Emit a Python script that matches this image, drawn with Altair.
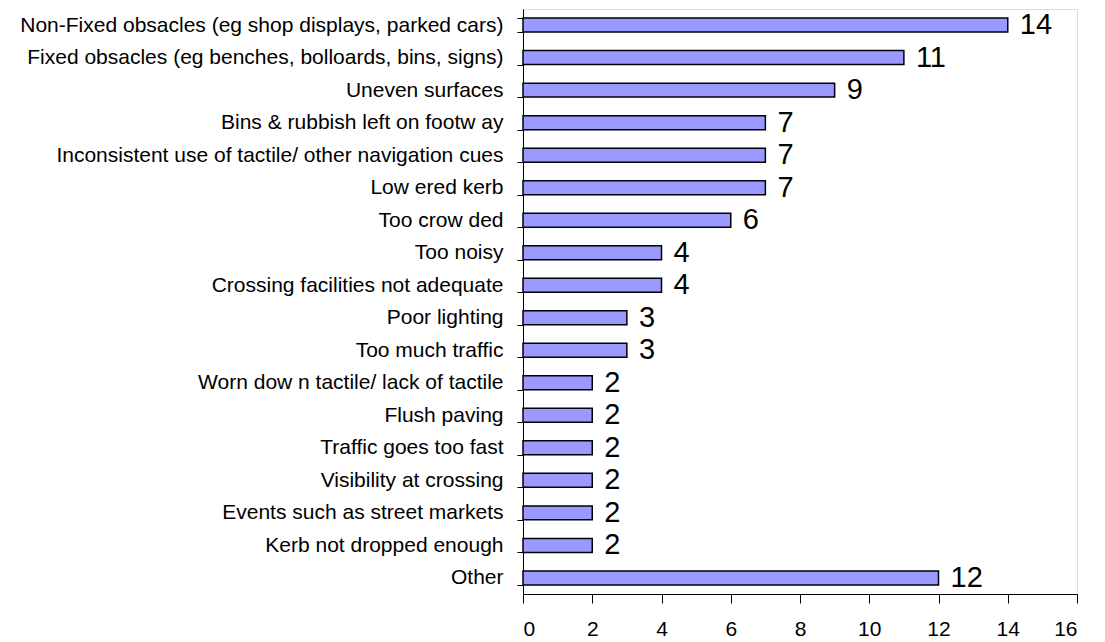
import altair as alt
import pandas as pd

categories = [
    "Non-Fixed obsacles (eg shop displays, parked cars)",
    "Fixed obsacles (eg benches, bolloards, bins, signs)",
    "Uneven surfaces",
    "Bins & rubbish left on footw ay",
    "Inconsistent use of tactile/ other navigation cues",
    "Low ered kerb",
    "Too crow ded",
    "Too noisy",
    "Crossing facilities not adequate",
    "Poor lighting",
    "Too much traffic",
    "Worn dow n tactile/ lack of tactile",
    "Flush paving",
    "Traffic goes too fast",
    "Visibility at crossing",
    "Events such as street markets",
    "Kerb not dropped enough",
    "Other",
]
values = [14, 11, 9, 7, 7, 7, 6, 4, 4, 3, 3, 2, 2, 2, 2, 2, 2, 12]
x_ticks = [0, 2, 4, 6, 8, 10, 12, 14, 16]

df = pd.DataFrame({"category": categories, "value": values})

FONT = "Liberation Sans"

y_enc = alt.Y(
    "category:N",
    sort=categories,
    scale=alt.Scale(paddingInner=0.57, paddingOuter=0.28),
    axis=alt.Axis(
        title=None,
        labelFont=FONT,
        labelFontSize=21,
        labelColor="#000000",
        labelLimit=600,
        labelPadding=14,
        tickBand="extent",
        tickColor="#000000",
        tickSize=6,
        domainColor="#000000",
        grid=False,
    ),
)

x_enc = alt.X(
    "value:Q",
    scale=alt.Scale(domain=[0, 16], nice=False),
    axis=alt.Axis(
        title=None,
        values=x_ticks,
        labelFont=FONT,
        labelFontSize=21,
        labelColor="#000000",
        labelPadding=15,
        tickColor="#000000",
        tickSize=9,
        domainColor="#000000",
        grid=False,
    ),
)

bars = alt.Chart(df).mark_bar(
    color="#9999FF", stroke="#000000", strokeWidth=1.5
).encode(x=x_enc, y=y_enc)

labels = alt.Chart(df).mark_text(
    align="left", baseline="middle", dx=12, dy=0, font=FONT, fontSize=29, color="#000000"
).encode(x=alt.X("value:Q"), y=alt.Y("category:N", sort=categories), text="value:Q")

chart = (
    alt.layer(bars, labels)
    .properties(
        width=554,
        height=585,
        autosize=alt.AutoSizeParams(type="none"),
        padding={"left": 515, "top": 1, "right": 20, "bottom": 44},
    )
    .configure_view(stroke=None)
    .configure(background="#FFFFFF")
)

chart.save("out.html", embed_options={"renderer": "svg", "actions": False})
